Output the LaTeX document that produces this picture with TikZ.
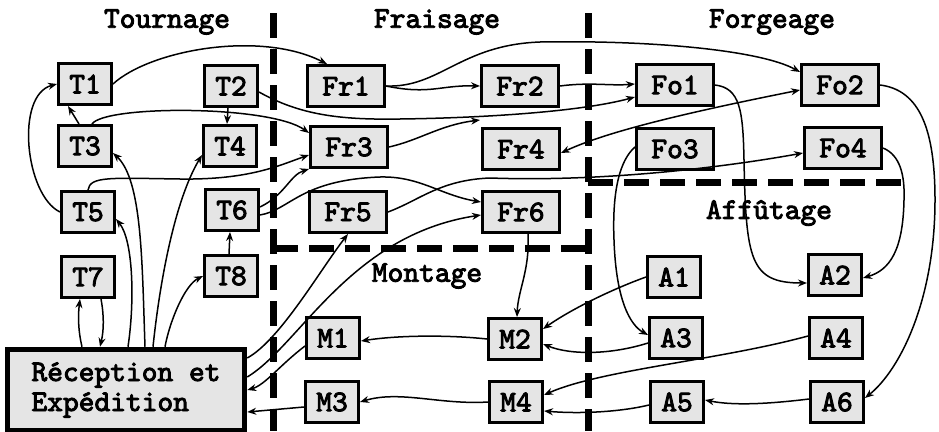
\documentclass[tikz,border=0pt]{standalone}
\usepackage{fontspec}
\newfontfamily\courb[FakeBold=3]{lmmono10-regular.otf}
\usetikzlibrary{arrows.meta}
\begin{document}
\begin{tikzpicture}[x=1pt,y=-1pt,
  box/.style={draw, line width=3pt, fill=black!10, inner sep=0pt, minimum height=41pt,
    font=\courb\fontsize{30}{30}\selectfont},
  sb/.style={box, minimum width=53pt},
  mb/.style={box, minimum width=77pt},
  ttl/.style={font=\courb\fontsize{30}{30}\selectfont},
  arr/.style={line width=1.5pt, -{Stealth[length=9pt,width=7pt]}},
  darr/.style={line width=1.5pt, {Stealth[length=9pt,width=7pt]}-{Stealth[length=9pt,width=7pt]}},
  zone/.style={line width=7pt, dash pattern=on 25pt off 11pt}]
\useasboundingbox (0,0) rectangle (939,431);

% zone boundaries
\draw[zone] (273,13) -- (273,431);
\draw[zone] (588,13) -- (588,431);
\draw[zone] (273,248) -- (588,248);
\draw[zone] (588,182) -- (907,182);

% titles
\node[ttl] (tTour) at (167,22) {Tournage};
\node[ttl] (tFrai) at (437,22) {Fraisage};
\node[ttl] (tForg) at (772,22) {Forgeage};
\node[ttl] (tAff) at (769,213) {Affûtage};
\node[ttl] (tMont) at (427,276) {Montage};

% Tournage
\node[sb] (T1) at (85,84) {T1};
\node[sb] (T2) at (231,86) {T2};
\node[sb] (T3) at (85,146) {T3};
\node[sb] (T4) at (230,146) {T4};
\node[sb] (T5) at (88,212) {T5};
\node[sb] (T6) at (232,210) {T6};
\node[sb] (T7) at (88,277) {T7};
\node[sb] (T8) at (231,276) {T8};
\node[box, minimum width=237pt, minimum height=81pt, line width=5.5pt, align=left] (RE) at (126,390) {Réception et\\Expédition};

% Fraisage
\node[mb] (Fr1) at (346,86) {Fr1};
\node[mb] (Fr2) at (520,86) {Fr2};
\node[mb] (Fr3) at (349,147) {Fr3};
\node[mb] (Fr4) at (521,149) {Fr4};
\node[mb] (Fr5) at (348,212) {Fr5};
\node[mb] (Fr6) at (521,212) {Fr6};

% Forgeage
\node[mb] (Fo1) at (675,85) {Fo1};
\node[mb] (Fo2) at (840,85) {Fo2};
\node[mb] (Fo3) at (675,149) {Fo3};
\node[mb] (Fo4) at (843,148) {Fo4};

% Affutage
\node[sb] (A1) at (674,277) {A1};
\node[sb] (A2) at (835,275) {A2};
\node[sb] (A3) at (676,338) {A3};
\node[sb] (A4) at (836,338) {A4};
\node[sb] (A5) at (677,402) {A5};
\node[sb] (A6) at (837,402) {A6};

% Montage
\node[sb] (M1) at (333,338) {M1};
\node[sb] (M2) at (515,339) {M2};
\node[sb] (M3) at (332,402) {M3};
\node[sb] (M4) at (516,402) {M4};

% Tournage connectors
\draw[arr] (T1.east) .. controls (150,50) and (260,30) .. ([xshift=-19pt]Fr1.north);
\draw[arr] (T5.west) .. controls (25,195) and (15,95) .. (T1.west);
\draw[arr] ([xshift=-6pt]T3.north) -- ([xshift=-17pt]T1.south);
\draw[arr] ([xshift=7pt]T3.north) .. controls (105,105) and (270,105) .. ([yshift=14pt]Fr3.west);
\draw[arr] ([xshift=-3pt]T2.south) -- ([xshift=-3pt]T4.north);
\draw[arr] ([yshift=-6pt]T2.east) .. controls (300,115) and (340,120) .. (400,119) .. controls (480,118) and (580,112) .. ([yshift=-12pt]Fo1.west);
\draw[arr] (T5.north) .. controls (90,176) and (110,178) .. (180,179) .. controls (250,180) and (280,165) .. ([yshift=-8pt]Fr3.west);
\draw[arr] ([yshift=3pt]T6.east) .. controls (285,195) and (290,175) .. (Fr3.south west);
\draw[arr] ([yshift=-5pt]T6.east) .. controls (290,210) and (300,180) .. (380,177) .. controls (420,176) and (440,195) .. ([yshift=10pt]Fr6.west);
\draw[arr] ([xshift=-2pt]T8.north) -- ([xshift=-2pt]T6.south);

% Reception connectors
\draw[arr] ([xshift=-44pt]RE.north) .. controls (78,330) and (78,315) .. ([xshift=-8pt]T7.south);
\draw[arr] ([xshift=13pt]T7.south) .. controls (104,315) and (104,330) .. ([xshift=-26pt]RE.north);
\draw[arr] ([xshift=2pt]RE.north) .. controls (135,300) and (133,240) .. ([yshift=15pt]T5.south east);
\draw[arr] ([xshift=19pt]RE.north) .. controls (142,260) and (142,180) .. ([yshift=-7pt]T3.east);
\draw[arr] ([xshift=27pt]RE.north) .. controls (160,280) and (175,200) .. ([yshift=-9pt]T4.west);
\draw[arr] ([xshift=39pt]RE.north) .. controls (170,320) and (185,285) .. (T8.west);
\draw[arr] ([yshift=32pt]RE.east) .. controls (280,340) and (320,270) .. (Fr5.south);
\draw[arr] ([yshift=13pt]RE.east) .. controls (300,345) and (350,235) .. ([yshift=-3pt]Fr6.west);
\draw[arr] ([yshift=-8pt]M1.west) .. controls (280,365) and (265,385) .. (RE.east);
\draw[arr] ([yshift=-5pt]M3.west) -- ([yshift=-22pt]RE.east);

% Fraisage connectors
\draw[arr] (Fr1.east) .. controls (430,95) and (440,85) .. (Fr2.west);
\draw[arr] (Fr1.east) .. controls (440,88) and (460,45) .. (540,42) .. controls (650,40) and (760,50) .. ([yshift=13pt]Fo2.west);
\draw[arr] (Fr2.east) .. controls (590,82) and (610,86) .. ([yshift=1pt]Fo1.west);
\draw[arr] (Fr3.east) .. controls (420,140) and (440,125) .. (480,120);
\draw[darr] ([yshift=-4pt]Fr4.east) .. controls (610,130) and (700,110) .. ([yshift=-5pt]Fo2.west);
\draw[arr] (Fr5.east) .. controls (420,200) and (440,180) .. (490,178) .. controls (600,182) and (720,168) .. ([yshift=-5pt]Fo4.west);
\draw[arr] ([xshift=7pt]Fr6.south) .. controls (530,270) and (518,290) .. ([xshift=2pt]M2.north);

% Forgeage connectors
\draw[arr] (Fo1.east) .. controls (740,88) and (743,110) .. (744,160) .. controls (746,260) and (750,283) .. ([yshift=-8pt]A2.west);
\draw[arr] (Fo2.east) .. controls (920,90) and (935,130) .. (935,200) .. controls (935,300) and (900,370) .. ([yshift=4pt]A6.east);
\draw[arr] (Fo4.east) .. controls (900,155) and (905,175) .. (904,200) .. controls (903,250) and (890,270) .. ([yshift=-3pt]A2.east);
\draw[arr] ([yshift=2pt]Fo3.west) .. controls (620,160) and (612,190) .. (614,240) .. controls (616,300) and (630,325) .. ([yshift=3pt]A3.west);

% Affutage connectors
\draw[arr] (A1.west) .. controls (610,290) and (570,310) .. ([yshift=10pt]M2.east);
\draw[arr] ([yshift=-5pt]A3.west) .. controls (610,355) and (570,355) .. ([yshift=-5pt]M2.east);
\draw[arr] ([yshift=2pt]A4.west) .. controls (720,360) and (600,370) .. ([yshift=7pt]M4.east);
\draw[arr] ([yshift=-3pt]A5.west) .. controls (620,412) and (580,414) .. ([yshift=-9pt]M4.east);
\draw[arr] ([yshift=3pt]A6.west) .. controls (760,405) and (730,405) .. ([yshift=2pt]A5.east);

% Montage connectors
\draw[arr] (M2.west) .. controls (450,335) and (400,335) .. ([yshift=-3pt]M1.east);
\draw[arr] (M4.west) .. controls (440,405) and (400,390) .. (M3.east);
\end{tikzpicture}
\end{document}
